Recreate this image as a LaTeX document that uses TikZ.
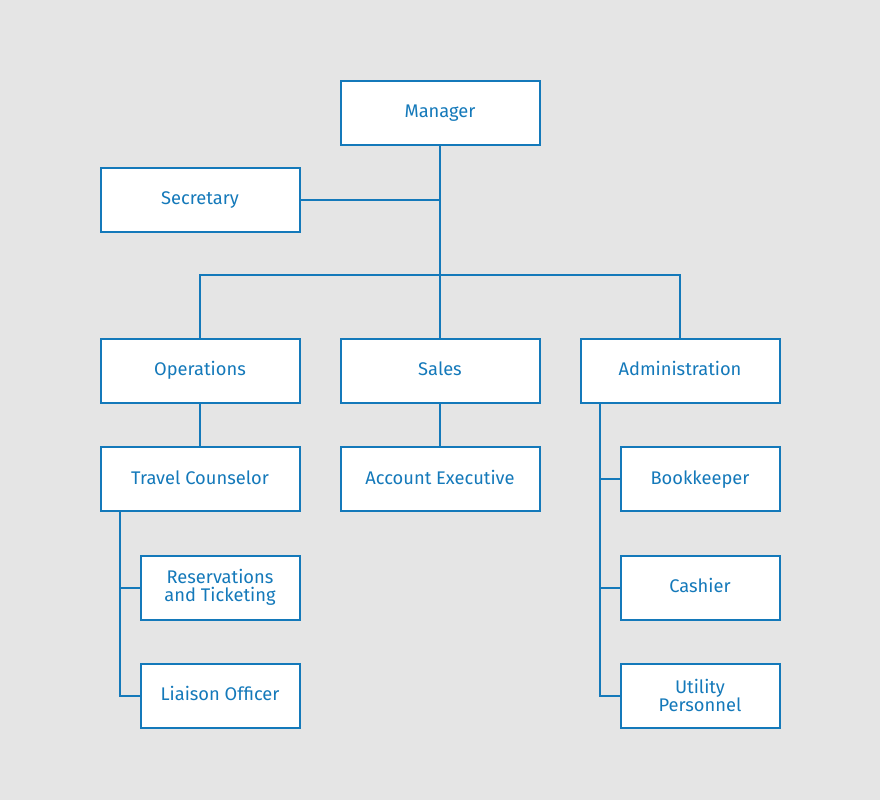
\documentclass[tikz,border=0pt]{standalone}
\usepackage{fontspec}
\setmainfont{Fira Sans}
\definecolor{bg}{HTML}{E5E5E5}
\definecolor{blu}{HTML}{1479BA}
\newcommand{\mystrut}{\rule[-3.9pt]{0pt}{18pt}}
\begin{document}
\begin{tikzpicture}[x=1pt,y=-1pt,
  box/.style={draw=blu,fill=white,line width=2pt,minimum height=64pt,inner sep=0pt,align=center,font=\fontsize{18.3}{18}\selectfont,text=blu},
  wide/.style={box,minimum width=199pt},
  narrow/.style={box,minimum width=159pt},
  conn/.style={draw=blu,line width=2pt}]
\fill[bg] (0,0) rectangle (880,800);
\useasboundingbox (0,0) rectangle (880,800);
\node[wide] (man) at (440,112.5) {\mystrut Manager};
\node[wide] (sec) at (200,199.5) {\mystrut Secretary};
\node[wide] (ops) at (200,370.5) {\mystrut Operations};
\node[wide] (sal) at (440,370.5) {\mystrut Sales};
\node[wide] (adm) at (680,370.5) {\mystrut Administration};
\node[wide] (tc) at (200,479) {\mystrut Travel Counselor};
\node[wide] (ae) at (440,479) {\mystrut Account Executive};
\node[narrow] (bk) at (700,479) {\mystrut Bookkeeper};
\node[narrow] (res) at (220,587.5) {Reservations\\and Ticketing};
\node[narrow] (cas) at (700,587.5) {\mystrut Cashier};
\node[narrow] (lia) at (220,695.5) {\mystrut Liaison Officer};
\node[narrow] (uti) at (700,695.5) {Utility\\Personnel};
\coordinate (hub) at (440,275);
\draw[conn] (man.south) -- (sal.north);
\draw[conn] (sec.east) -- (sec.east -| man.south);
\draw[conn] (ops.north) |- (hub) -| (adm.north);
\draw[conn] (ops.south) -- (tc.north);
\draw[conn] (sal.south) -- (ae.north);
\coordinate (tcl) at (120,511);
\coordinate (adl) at (600,403);
\draw[conn] (tcl) |- (lia.west);
\draw[conn] (tcl |- res.west) -- (res.west);
\draw[conn] (adl) |- (uti.west);
\draw[conn] (adl |- bk.west) -- (bk.west);
\draw[conn] (adl |- cas.west) -- (cas.west);
\end{tikzpicture}
\end{document}
